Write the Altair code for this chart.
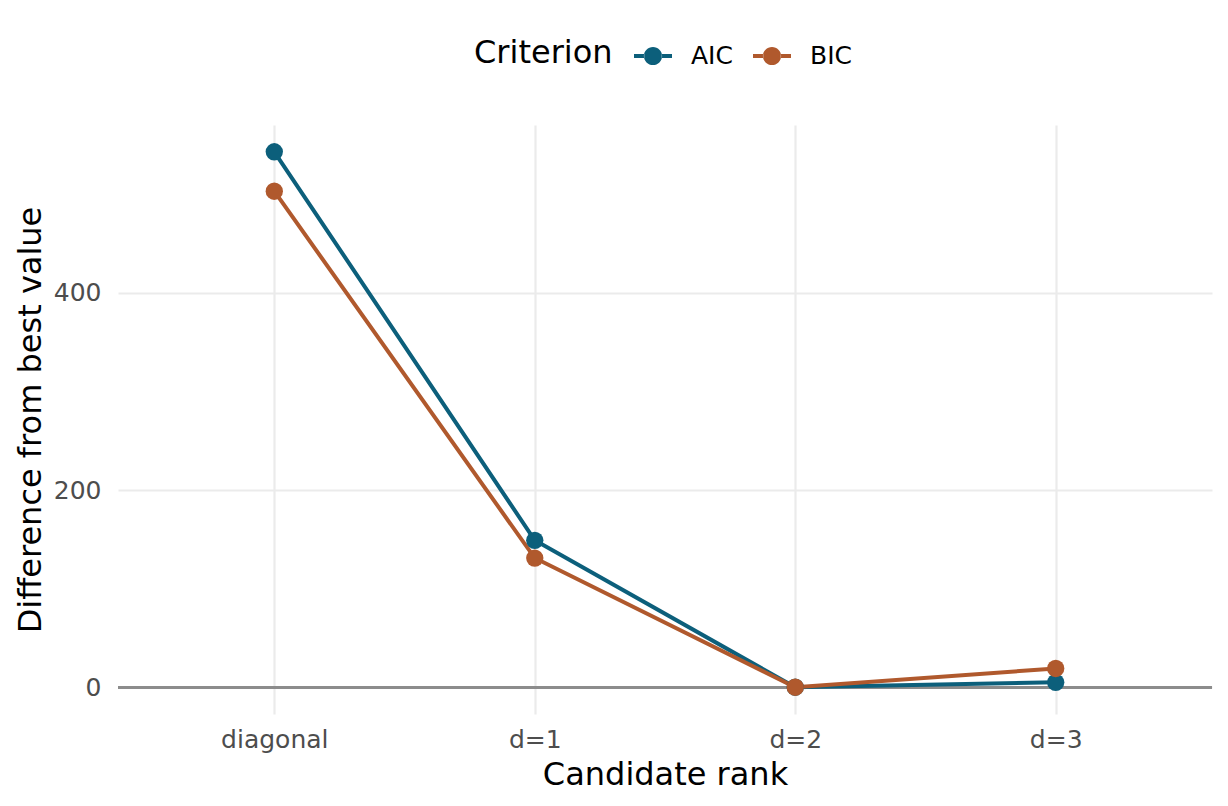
import altair as alt
import pandas as pd

# Candidate covariance structures and their information-criterion gaps
ranks = ["diagonal", "d=1", "d=2", "d=3"]
aic_diff = [543, 149, 0, 5]
bic_diff = [503, 131, 0, 19]
criteria = ["AIC", "BIC"]
palette = ["#0C5F7B", "#B0592D"]

rows = []
for crit, vals in zip(criteria, [aic_diff, bic_diff]):
    for i, (r, v) in enumerate(zip(ranks, vals)):
        rows.append({"rank": r, "idx": i, "Criterion": crit, "series": crit, "diff": v})
df = pd.DataFrame(rows)

FONT = "DejaVu Sans"

# legend key: a short line segment with a dot in the middle
key_path = (
    "M-1,-0.1 L-0.46,-0.1 L-0.46,0.1 L-1,0.1 Z "
    "M0.46,-0.1 L1,-0.1 L1,0.1 L0.46,0.1 Z "
    "M-0.48,0 A0.48,0.48 0 1,0 0.48,0 A0.48,0.48 0 1,0 -0.48,0 Z"
)

x_enc = alt.X(
    "rank:O",
    sort=ranks,
    scale=alt.Scale(type="point", domain=ranks, padding=0.6),
    axis=alt.Axis(
        title="Candidate rank",
        labelAngle=0,
        labelBaseline="alphabetic",
        labelPadding=33,
        titleBaseline="alphabetic",
        titleY=70,
    ),
)
y_enc = alt.Y(
    "diff:Q",
    scale=alt.Scale(domain=[-27.15, 570.15], nice=False, zero=False),
    axis=alt.Axis(
        title="Difference from best value",
        values=[0, 200, 400],
        labelPadding=17,
        titleBaseline="alphabetic",
        titleAngle=-90,
        titleX=-78,
        titleY=294.5,
        titleAlign="center",
    ),
)
color_scale = alt.Scale(domain=criteria, range=palette)

base = alt.Chart(df)

zero_line = base.mark_rule(color="#8C8C8C", strokeWidth=2.4).encode(y=alt.datum(0))

lines = base.mark_line(strokeWidth=4).encode(
    x=x_enc,
    y=y_enc,
    stroke=alt.Stroke("series:N", scale=color_scale, legend=None),
    order=alt.Order("idx:Q"),
)

points = base.mark_point(filled=True, size=300, opacity=1).encode(
    x=x_enc,
    y=y_enc,
    color=alt.Color(
        "Criterion:N",
        scale=color_scale,
        legend=alt.Legend(
            title="Criterion",
            orient="none",
            direction="horizontal",
            legendX=356,
            legendY=-88,
            titleOrient="left",
            titleBaseline="middle",
            symbolType=key_path,
            symbolSize=1444,
            symbolStrokeWidth=0,
            labelOffset=19,
            columnPadding=20,
            titlePadding=21,
            padding=0,
        ),
    ),
)

chart = (
    alt.layer(zero_line, lines, points)
    .resolve_scale(color="independent", stroke="independent")
    .properties(
        width=1094,
        height=589,
        autosize=alt.AutoSizeParams(type="none"),
        padding={"left": 118, "top": 125, "right": 16, "bottom": 92},
        background="white",
    )
    .configure_view(stroke=None)
    .configure_axis(
        domain=False,
        ticks=False,
        grid=True,
        gridColor="#EBEBEB",
        gridWidth=2.2,
        labelFont=FONT,
        labelFontSize=25,
        labelColor="#4D4D4D",
        titleFont=FONT,
        titleFontSize=32,
        titleFontWeight="normal",
        titleColor="#000000",
    )
    .configure_legend(
        titleFont=FONT,
        titleFontSize=32,
        titleFontWeight="normal",
        titleColor="#000000",
        labelFont=FONT,
        labelFontSize=25,
        labelColor="#000000",
    )
)

chart.save("out.html", embed_options={"renderer": "svg", "actions": False})
